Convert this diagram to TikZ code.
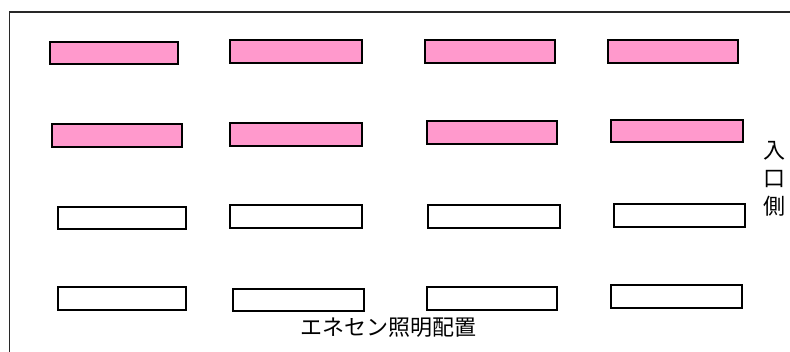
\documentclass[tikz,border=0pt]{standalone}
\usepackage{fontspec}
\newfontfamily\cjk{Noto Sans CJK JP}
\definecolor{lamppink}{RGB}{255,153,204}
\definecolor{framegray}{RGB}{40,40,40}
\begin{document}
\begin{tikzpicture}[x=1pt,y=1pt,
  lamp/.style={draw=black,line width=2.4pt,rectangle,inner sep=0pt},
  onlamp/.style={lamp,fill=lamppink},
  offlamp/.style={lamp,fill=white},
  lbl/.style={font=\cjk\fontsize{22}{28}\selectfont,inner sep=0pt,align=center}]
\useasboundingbox (0,0) rectangle (790,-352);
% frame (open to right and bottom)
\coordinate (fbl) at (9.5,-352);
\coordinate (ftl) at (9.5,-12);
\coordinate (ftr) at (790,-12);
\draw[framegray,line width=1.7pt] (fbl) -- (ftl) -- (ftr);
% row 1 (lit)
\node[onlamp,minimum width=128,minimum height=22] (r11) at (114,-53) {};
\node[onlamp,minimum width=132,minimum height=23] (r12) at (296,-51.5) {};
\node[onlamp,minimum width=130,minimum height=23] (r13) at (490,-51.5) {};
\node[onlamp,minimum width=130,minimum height=23] (r14) at (673,-51.5) {};
% row 2 (lit)
\node[onlamp,minimum width=130,minimum height=23] (r21) at (117,-135.5) {};
\node[onlamp,minimum width=132,minimum height=23] (r22) at (296,-134.5) {};
\node[onlamp,minimum width=130,minimum height=23] (r23) at (492,-132.5) {};
\node[onlamp,minimum width=132,minimum height=22] (r24) at (677,-131) {};
% row 3 (off)
\node[offlamp,minimum width=128,minimum height=22] (r31) at (122,-218) {};
\node[offlamp,minimum width=132,minimum height=23] (r32) at (296,-216.5) {};
\node[offlamp,minimum width=132,minimum height=23] (r33) at (494,-216.5) {};
\node[offlamp,minimum width=131,minimum height=23] (r34) at (679.5,-215.5) {};
% row 4 (off)
\node[offlamp,minimum width=128,minimum height=23] (r41) at (122,-298.5) {};
\node[offlamp,minimum width=131,minimum height=22] (r42) at (298.5,-300) {};
\node[offlamp,minimum width=130,minimum height=23] (r43) at (492,-298.5) {};
\node[offlamp,minimum width=131,minimum height=23] (r44) at (676.5,-296.5) {};
% labels
\node[lbl] (entry) at (774,-179) {入\\口\\側};
\node[lbl] (title) at (388,-327.5) {エネセン照明配置};
\end{tikzpicture}
\end{document}
